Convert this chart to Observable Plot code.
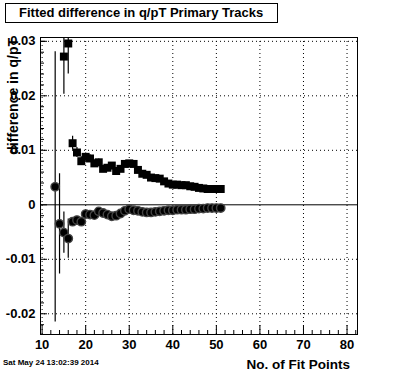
<!DOCTYPE html>
<html>
<head>
<meta charset="utf-8">
<script src="https://cdn.jsdelivr.net/npm/d3@7"></script>
<script src="https://cdn.jsdelivr.net/npm/@observablehq/plot@0.6"></script>
<style>
  html, body { margin: 0; padding: 0; background: #fff; }
  #wrap { position: relative; width: 396px; height: 372px; overflow: hidden; background: #fff;
          font-family: "Liberation Sans", Arial, Helvetica, sans-serif; font-weight: bold; color: #000; }
  #wrap svg { position: absolute; left: 0; top: 0; }
  .title { position: absolute; left: 5px; top: 3px; width: 271px; height: 18px; border: 1px solid #000;
           font-size: 13px; line-height: 18px; padding-left: 0; text-indent: 13px; white-space: nowrap; background: #fff; }
  .ytitle { position: absolute; left: 5px; top: 178px; width: 140px; height: 16px; line-height: 16px;
            font-size: 14px; text-align: right; white-space: nowrap; transform: rotate(-90deg); transform-origin: 0 0; }
  .xtitle { position: absolute; right: 46px; top: 358px; font-size: 13.5px; line-height: 1; white-space: nowrap; }
  .date { position: absolute; left: 3px; top: 359px; font-size: 8px; line-height: 1; white-space: nowrap; }
</style>
</head>
<body>
<div id="wrap">
  <div class="title">Fitted difference in q/pT Primary Tracks</div>
  <div class="ytitle">difference in q/pT</div>
  <div class="xtitle">No. of Fit Points</div>
  <div class="date">Sat May 24 13:02:39 2014</div>
</div>
<script>
// ---- data ----
const squareN = [15,16,17,18,19,20,21,22,23,24,25,26,27,28,29,30,31,32,33,34,35,36,37,38,39,40,41,42,43,44,45,46,47,48,49,50,51];
const squareV = [0.0272,0.0296,0.0113,0.0096,0.0080,0.0088,0.0085,0.0076,0.0078,0.0066,0.0068,0.0072,0.0062,0.0066,0.0075,0.0076,0.0075,0.0064,0.0057,0.0055,0.0050,0.0049,0.0048,0.0043,0.0039,0.0037,0.0037,0.0036,0.0036,0.0034,0.0033,0.0031,0.0030,0.0029,0.0029,0.0029,0.0029];
const squareE = [0.0069,0.0056,0.0013,0.0009,0.0008,0.0007,0.0007,0.0006,0.0006,0.0006,0.0005,0.0005,0.0005,0.0005,0.0005,0.0005,0.0004,0.0004,0.0004,0.0004,0.0004,0.0004,0.0003,0.0003,0.0003,0.0003,0.0003,0.0003,0.0003,0.0003,0.0003,0.0003,0.0003,0.0003,0.0003,0.0003,0.0003];

const circleN = [13,14,15,16,17,18,19,20,21,22,23,24,25,26,27,28,29,30,31,32,33,34,35,36,37,38,39,40,41,42,43,44,45,46,47,48,49,50,51];
const circleV = [0.0033,-0.0035,-0.0051,-0.0062,-0.0031,-0.0028,-0.0031,-0.0017,-0.0018,-0.0019,-0.0012,-0.0015,-0.0018,-0.0021,-0.0020,-0.0016,-0.0011,-0.0008,-0.0010,-0.0011,-0.0013,-0.0014,-0.0014,-0.0013,-0.0012,-0.0011,-0.0010,-0.0010,-0.0009,-0.0009,-0.0009,-0.0008,-0.0008,-0.0007,-0.0007,-0.0006,-0.0006,-0.0006,-0.0006];
const circleE = [0.0248,0.0092,0.0038,0.0036,0.0006,0.0005,0.0005,0.0004,0.0004,0.0004,0.0004,0.0004,0.0003,0.0003,0.0003,0.0003,0.0003,0.0003,0.0003,0.0003,0.0003,0.0003,0.0003,0.0003,0.0003,0.0003,0.0003,0.0003,0.0003,0.0003,0.0003,0.0003,0.0003,0.0003,0.0003,0.0003,0.0003,0.0003,0.0003];

// ---- axes ----
const xMajor = [10,20,30,40,50,60,70,80];
const xMinor = [12,14,16,18,22,24,26,28,32,34,36,38,42,44,46,48,52,54,56,58,62,64,66,68,72,74,76,78,82];
const yMajor = [-0.02,-0.01,0,0.01,0.02,0.03];
const yMinor = [-0.022,-0.018,-0.016,-0.014,-0.012,-0.008,-0.006,-0.004,-0.002,0.002,0.004,0.006,0.008,0.012,0.014,0.016,0.018,0.022,0.024,0.026,0.028,0.030];
const yGrid = [-0.02,-0.01,0.01,0.02,0.03];
const xDomain = [9.63, 82.4];
const yDomain = [-0.0238, 0.0307];

const squares = squareN.map((n,i) => ({n, v: squareV[i], e: squareE[i]}));
const circles = circleN.map((n,i) => ({n, v: circleV[i], e: circleE[i]}));

const fmt = d => d === 0 ? "0" : d.toFixed(2);
const none = () => "";
const dotted = {stroke: "#000", strokeOpacity: 1, strokeDasharray: "1,3", strokeWidth: 1};

const chart = Plot.plot({
  width: 396,
  height: 372,
  marginTop: 37,
  marginBottom: 38,
  marginLeft: 40,
  marginRight: 39,
  x: {domain: xDomain},
  y: {domain: yDomain},
  style: {fontFamily: "'Liberation Sans', Arial, sans-serif", fontWeight: "bold", fontSize: "13px", color: "#000", background: "transparent"},
  marks: [
    Plot.gridX(xMajor, dotted),
    Plot.gridY(yGrid, dotted),
    Plot.ruleY([0], {stroke: "#000", strokeWidth: 1}),
    Plot.ruleX(squares, {x: "n", y1: d => d.v - d.e, y2: d => d.v + d.e, stroke: "#000", strokeWidth: 1.2, clip: true}),
    Plot.ruleX(circles, {x: "n", y1: d => d.v - d.e, y2: d => d.v + d.e, stroke: "#000", strokeWidth: 1.2, clip: true}),
    Plot.dot(squares, {x: "n", y: "v", symbol: "square", r: 4.5, fill: "#000", stroke: "none", clip: true}),
    Plot.dot(circles, {x: "n", y: "v", symbol: "circle", r: 4.2, fill: "#000", stroke: "#444", strokeWidth: 1.4, clip: true}),
    Plot.axisY({ticks: yMajor, tickSize: 0, tickPadding: 5, tickFormat: fmt, label: null}),
    Plot.axisY({ticks: yMajor, tickSize: 7, dx: 7, tickFormat: none, label: null}),
    Plot.axisY({ticks: yMinor, tickSize: 4, dx: 4, tickFormat: none, label: null}),
    Plot.axisX({ticks: xMajor, tickSize: 0, tickPadding: 5, tickFormat: d => String(d), label: null}),
    Plot.axisX({ticks: xMajor, tickSize: 9, dy: -9, tickFormat: none, label: null}),
    Plot.axisX({ticks: xMinor, tickSize: 4, dy: -4, tickFormat: none, label: null}),
    Plot.frame({stroke: "#000", strokeWidth: 1})
  ]
});
document.getElementById("wrap").prepend(chart);
</script>
</body>
</html>
